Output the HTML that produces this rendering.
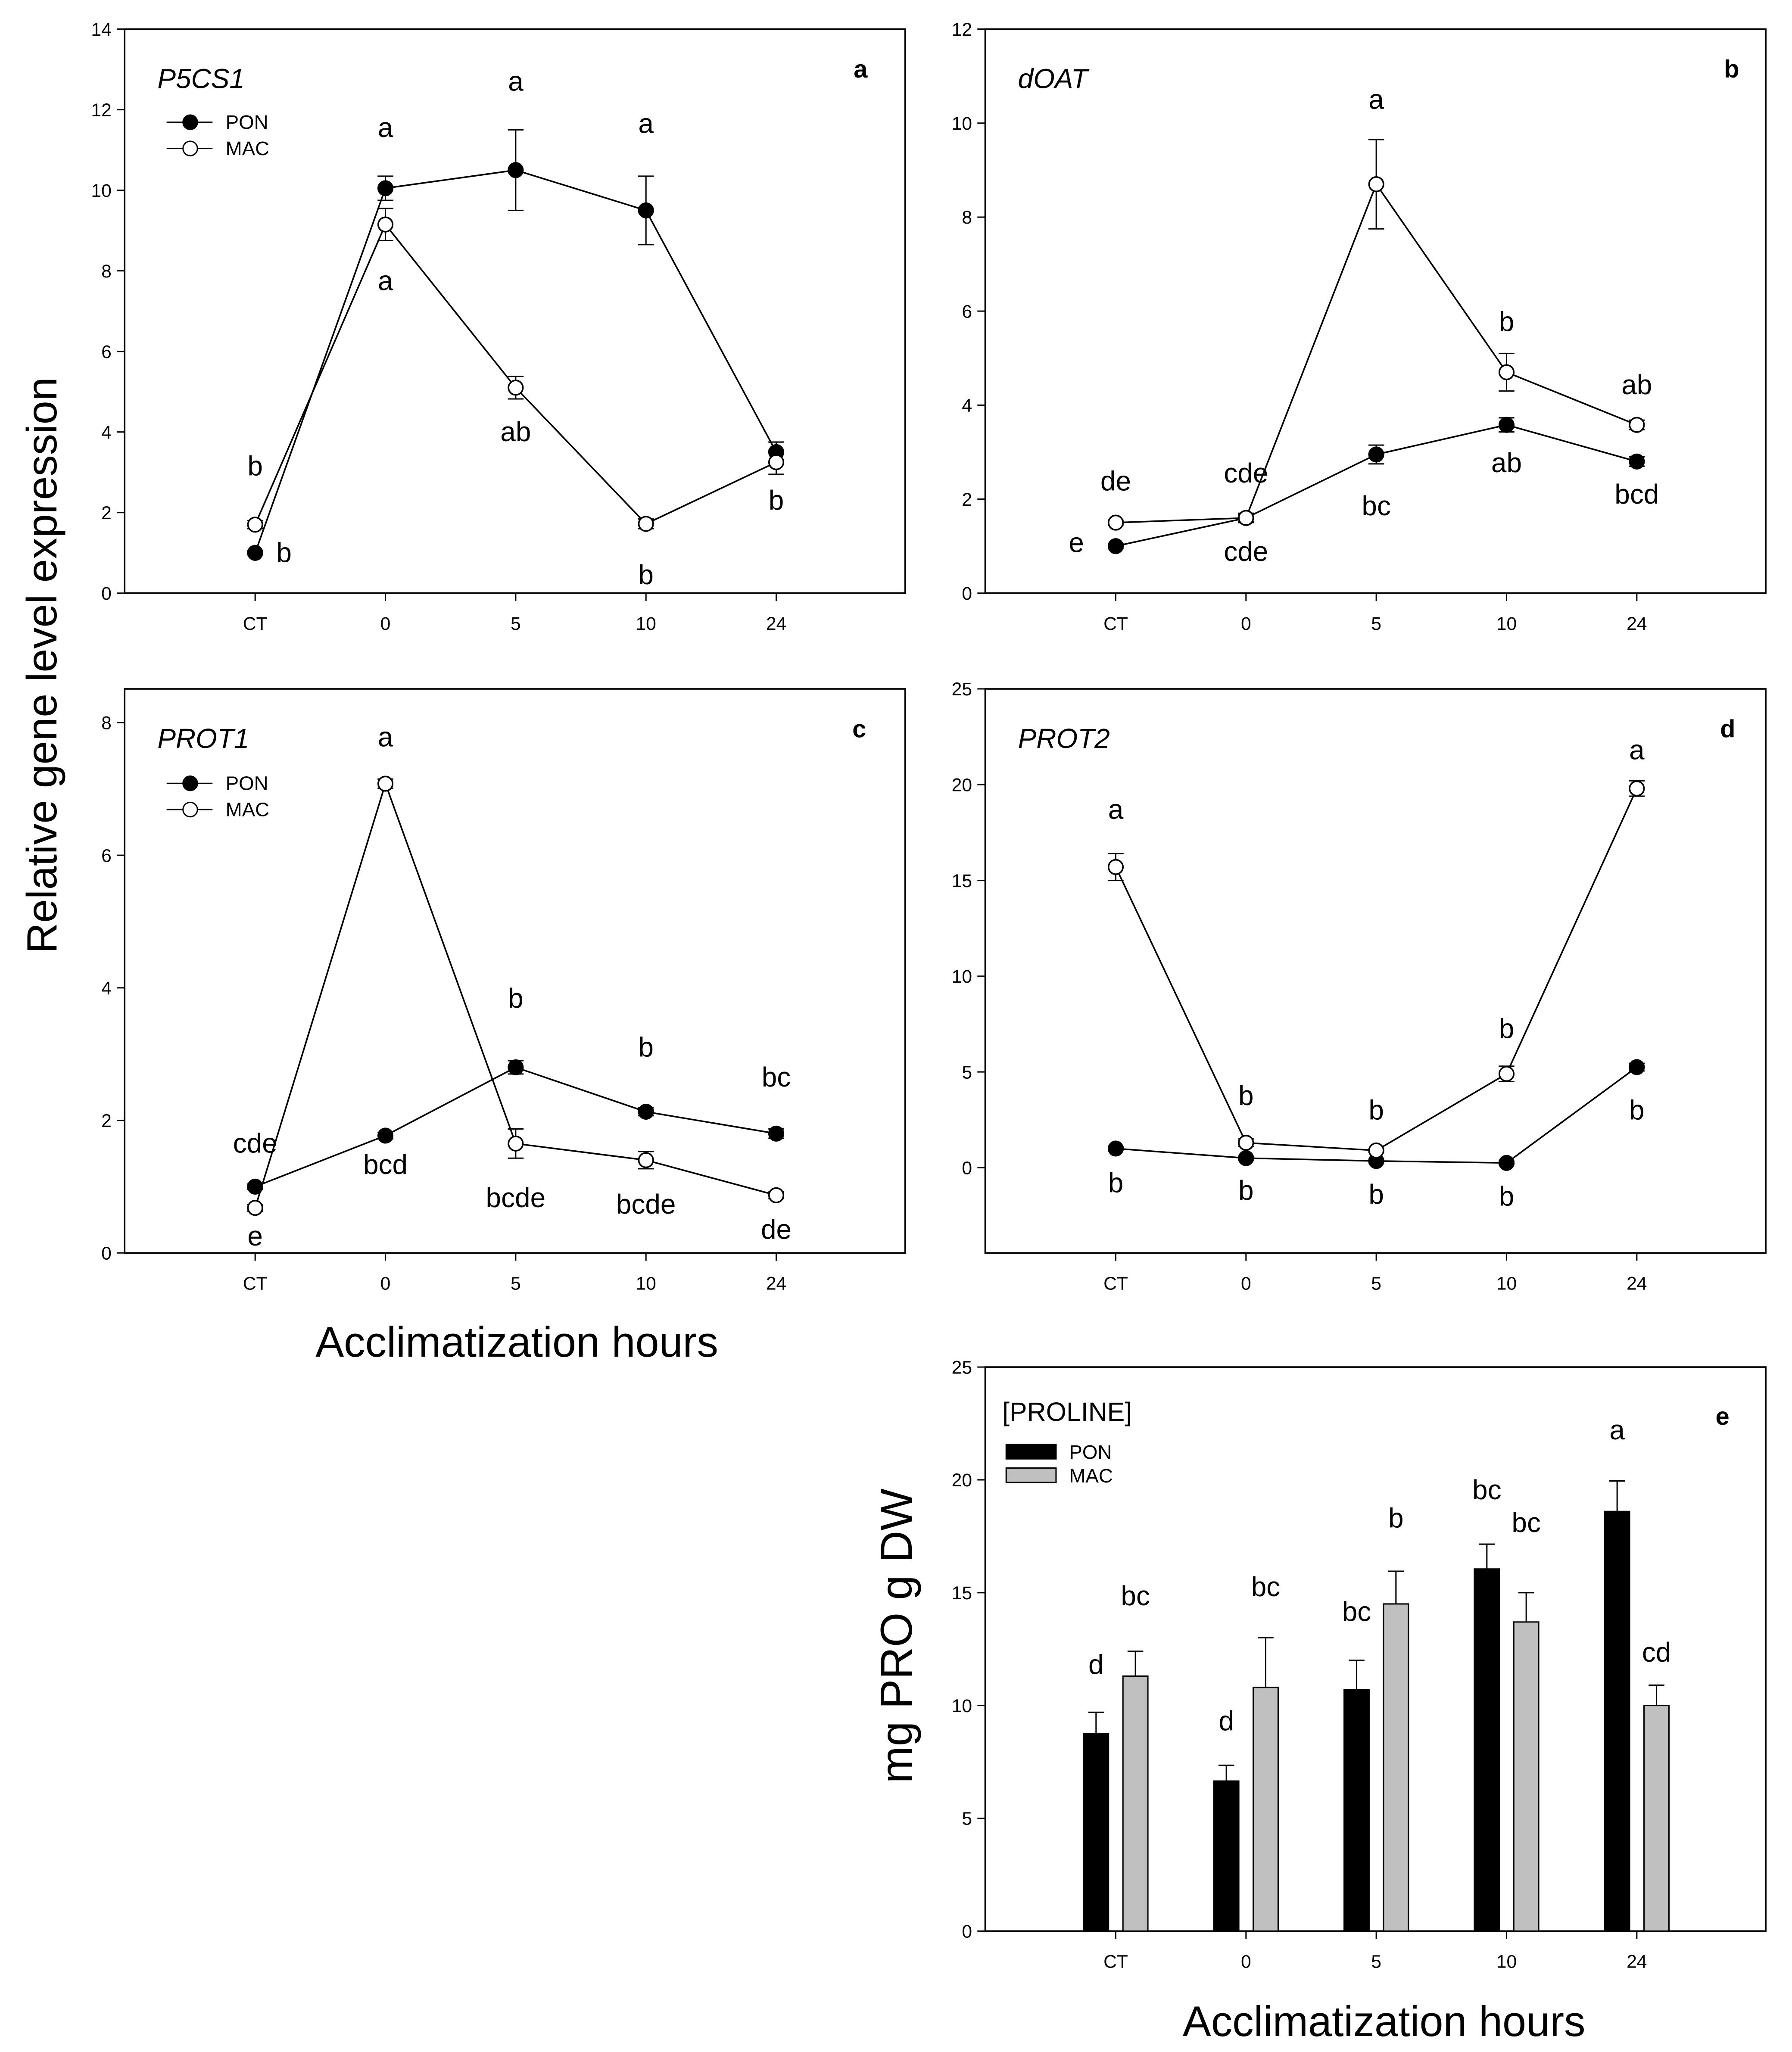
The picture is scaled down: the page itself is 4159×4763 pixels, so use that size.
<!DOCTYPE html>
<html><head><meta charset="utf-8"><style>
html,body{margin:0;padding:0;background:#fff;}
svg{display:block;font-family:"Liberation Sans",Arial,sans-serif;}
</style></head><body>
<svg id="fig" width="4159" height="4763" viewBox="0 0 1366 1564" xmlns="http://www.w3.org/2000/svg">
<rect width="1366" height="1564" fill="#fff"/>
<text transform="translate(43,507) rotate(-90)" text-anchor="middle" font-size="32.4">Relative gene level expression</text>
<text x="394" y="1034" text-anchor="middle" font-size="32.5">Acclimatization hours</text>
<text x="1055" y="1552" text-anchor="middle" font-size="32.5">Acclimatization hours</text>
<text transform="translate(695,1247) rotate(-90)" text-anchor="middle" font-size="34">mg PRO g DW</text>
</svg>
<script>
const categories = ["CT","0","5","10","24"];
// panel a
const aPON = [1.0,10.05,10.5,9.5,3.5];
const aPONerr = [0.05,0.3,1.0,0.85,0.25];
const aMAC = [1.7,9.15,5.1,1.72,3.25];
const aMACerr = [0.1,0.4,0.28,0.12,0.3];
const aTicks = [0,2,4,6,8,10,12,14];
const aLetters = [["b",0,1.0,"r"],["a",1,11.55],["a",2,12.7],["a",3,11.65],["b",0,3.15],["a",1,7.75],["ab",2,4.0],["b",3,0.45],["b",4,2.3]];
// panel b
const bPON = [1.0,1.6,2.95,3.58,2.8];
const bPONerr = [0.05,0.1,0.2,0.15,0.1];
const bMAC = [1.5,1.6,8.7,4.7,3.58];
const bMACerr = [0.05,0.08,0.95,0.4,0.1];
const bTicks = [0,2,4,6,8,10,12];
const bLetters = [["de",0,2.38],["e",0,1.07,"l"],["cde",1,2.55],["cde",1,0.88],["a",2,10.5],["bc",2,1.85],["b",3,5.77],["ab",3,2.77],["ab",4,4.43],["bcd",4,2.1]];
// panel c
const cPON = [1.0,1.77,2.8,2.13,1.8];
const cPONerr = [0.04,0.05,0.1,0.06,0.07];
const cMAC = [0.68,7.08,1.65,1.4,0.87];
const cMACerr = [0.05,0.07,0.22,0.13,0.05];
const cTicks = [0,2,4,6,8];
const cLetters = [["a",1,7.78],["cde",0,1.65],["e",0,0.25],["bcd",1,1.33],["b",2,3.84],["bcde",2,0.83],["b",3,3.1],["bcde",3,0.73],["bc",4,2.65],["de",4,0.35]];
// panel d
const dPON = [1.0,0.5,0.35,0.25,5.25];
const dPONerr = [0.1,0.1,0.1,0.1,0.2];
const dMAC = [15.7,1.3,0.9,4.9,19.8];
const dMACerr = [0.7,0.2,0.1,0.4,0.4];
const dTicks = [0,5,10,15,20,25];
const dLetters = [["a",0,18.7],["b",0,-0.8],["b",1,3.75],["b",1,-1.2],["b",2,3.0],["b",2,-1.4],["b",3,7.25],["b",3,-1.5],["a",4,21.8],["b",4,3.0]];
// panel e
const ePON = [8.75,6.65,10.7,16.05,18.6];
const ePONerr = [0.95,0.7,1.3,1.1,1.35];
const eMAC = [11.3,10.8,14.5,13.7,10.0];
const eMACerr = [1.1,2.2,1.45,1.3,0.9];
const eTicks = [0,5,10,15,20,25];
const ePONLetters = ["d","d","bc","bc","a"];
const ePONLetterY = [11.8,9.3,14.15,19.55,22.2];
const eMACLetters = ["bc","bc","b","bc","cd"];
const eMACLetterY = [14.85,15.25,18.3,18.1,12.35];

const NS="http://www.w3.org/2000/svg";
const svg=document.getElementById('fig');
function mk(tag,attrs,parent,name,text){
  const el=document.createElementNS(NS,tag);
  for(const k in attrs) el.setAttribute(k,attrs[k]);
  
  
  if(text!==undefined) el.textContent=text;
  (parent||svg).appendChild(el);
  return el;
}
function panel(cfg){
  const g=mk('g',{},svg,'panel-'+cfg.id);
  const x0=cfg.left, x1=cfg.left+595, yt=cfg.top, yb=cfg.top+430;
  const xs=i=>cfg.left+99.5+i*99.3;
  const ys=v=>yb-(v-cfg.min)/(cfg.max-cfg.min)*(yb-yt);
  mk('rect',{x:x0,y:yt,width:x1-x0,height:yb-yt,fill:'none',stroke:'#000','stroke-width':1.2},g,'plot-frame');
  cfg.ticks.forEach(t=>{
    mk('line',{x1:x0-6,x2:x0,y1:ys(t),y2:ys(t),stroke:'#000'},g,'y-tick');
    mk('text',{x:x0-10,y:ys(t)+5,'text-anchor':'end','font-size':14},g,'y-tick-label',String(t));
  });
  categories.forEach((c,i)=>{
    mk('line',{x1:xs(i),x2:xs(i),y1:yb,y2:yb+6,stroke:'#000'},g,'x-tick');
    mk('text',{x:xs(i),y:yb+28,'text-anchor':'middle','font-size':14},g,'x-tick-label',c);
  });
  return {g,xs,ys,x0,x1,yt,yb};
}
function errbar(g,x,y1,y2,name){
  mk('line',{x1:x,x2:x,y1:y1,y2:y2,stroke:'#000'},g,name);
  mk('line',{x1:x-6,x2:x+6,y1:y2,y2:y2,stroke:'#000'},g,name+'-cap');
}
function linePanel(cfg){
  const p=panel(cfg);
  [[cfg.pon,cfg.ponErr,'#000','pon'],[cfg.mac,cfg.macErr,'#fff','mac']].forEach(([vals,errs,fill,nm])=>{
    const pts=vals.map((v,i)=>p.xs(i)+','+p.ys(v)).join(' ');
    mk('polyline',{points:pts,fill:'none',stroke:'#000','stroke-width':1.2},p.g,nm+'-line');
    vals.forEach((v,i)=>{
      errbar(p.g,p.xs(i),p.ys(v-errs[i]),p.ys(v+errs[i]),nm+'-error-bar');
      mk('line',{x1:p.xs(i)-6,x2:p.xs(i)+6,y1:p.ys(v-errs[i]),y2:p.ys(v-errs[i]),stroke:'#000'},p.g,nm+'-error-cap-low');
    });
    vals.forEach((v,i)=>{
      mk('circle',{cx:p.xs(i),cy:p.ys(v),r:5.5,fill:fill,stroke:'#000','stroke-width':1.2},p.g,nm+'-point-'+categories[i]);
    });
  });
  cfg.letters.forEach(L=>{
    let x=p.xs(L[1]); if(L[3]==='r') x+=22; if(L[3]==='l') x-=30;
    mk('text',{x:x,y:p.ys(L[2])+7,'text-anchor':'middle','font-size':21},p.g,'significance-letter',L[0]);
  });
  mk('text',{x:p.x0+25,y:p.yt+45,'font-size':21,'font-style':'italic'},p.g,'gene-name',cfg.gene);
  mk('text',{x:p.x1-cfg.labelOff,y:p.yt+37,'font-size':19,'font-weight':'bold','text-anchor':'middle'},p.g,'panel-label',cfg.id);
  if(cfg.legend){
    const ly=p.yt+cfg.legend;
    [['PON','#000',0],['MAC','#fff',20]].forEach(([t,f,d])=>{
      mk('line',{x1:p.x0+32,x2:p.x0+67,y1:ly+d,y2:ly+d,stroke:'#000'},p.g,'legend-line-'+t.toLowerCase());
      mk('circle',{cx:p.x0+50,cy:ly+d,r:5.5,fill:f,stroke:'#000'},p.g,'legend-marker-'+t.toLowerCase());
      mk('text',{x:p.x0+77,y:ly+d+5,'font-size':15},p.g,'legend-label-'+t.toLowerCase(),t);
    });
  }
}
linePanel({id:'a',left:95,top:22,min:0,max:14,ticks:aTicks,pon:aPON,ponErr:aPONerr,mac:aMAC,macErr:aMACerr,letters:aLetters,gene:'P5CS1',legend:71,labelOff:34});
linePanel({id:'b',left:751,top:22,min:0,max:12,ticks:bTicks,pon:bPON,ponErr:bPONerr,mac:bMAC,macErr:bMACerr,letters:bLetters,gene:'dOAT',labelOff:26});
linePanel({id:'c',left:95,top:525,min:0,max:8.51,ticks:cTicks,pon:cPON,ponErr:cPONerr,mac:cMAC,macErr:cMACerr,letters:cLetters,gene:'PROT1',legend:72,labelOff:35});
linePanel({id:'d',left:751,top:525,min:-4.45,max:25,ticks:dTicks,pon:dPON,ponErr:dPONerr,mac:dMAC,macErr:dMACerr,letters:dLetters,gene:'PROT2',labelOff:29});

(function(){
  const p=panel({id:'e',left:751,top:1042,min:0,max:25,ticks:eTicks});
  const bw=19;
  ePON.forEach((v,i)=>{
    const cx=p.xs(i)-15;
    mk('rect',{x:cx-bw/2,y:p.ys(v),width:bw,height:p.yb-p.ys(v),fill:'#000',stroke:'#000'},p.g,'bar-pon-'+categories[i]);
    errbar(p.g,cx,p.ys(v),p.ys(v+ePONerr[i]),'pon-error-bar');
    mk('text',{x:cx,y:p.ys(ePONLetterY[i])+7,'text-anchor':'middle','font-size':21},p.g,'significance-letter',ePONLetters[i]);
  });
  eMAC.forEach((v,i)=>{
    const cx=p.xs(i)+15;
    mk('rect',{x:cx-bw/2,y:p.ys(v),width:bw,height:p.yb-p.ys(v),fill:'#c0c0c0',stroke:'#000'},p.g,'bar-mac-'+categories[i]);
    errbar(p.g,cx,p.ys(v),p.ys(v+eMACerr[i]),'mac-error-bar');
    mk('text',{x:cx,y:p.ys(eMACLetterY[i])+7,'text-anchor':'middle','font-size':21},p.g,'significance-letter',eMACLetters[i]);
  });
  mk('text',{x:p.x0+13,y:p.yt+41,'font-size':20},p.g,'panel-title','[PROLINE]');
  mk('text',{x:p.x1-33,y:p.yt+44,'font-size':19,'font-weight':'bold','text-anchor':'middle'},p.g,'panel-label','e');
  mk('rect',{x:p.x0+16,y:p.yt+59,width:38,height:11,fill:'#000',stroke:'#000'},p.g,'legend-swatch-pon');
  mk('text',{x:p.x0+64,y:p.yt+70,'font-size':15},p.g,'legend-label-pon','PON');
  mk('rect',{x:p.x0+16,y:p.yt+77,width:38,height:11,fill:'#c0c0c0',stroke:'#000'},p.g,'legend-swatch-mac');
  mk('text',{x:p.x0+64,y:p.yt+88,'font-size':15},p.g,'legend-label-mac','MAC');
})();
</script>
</body></html>
